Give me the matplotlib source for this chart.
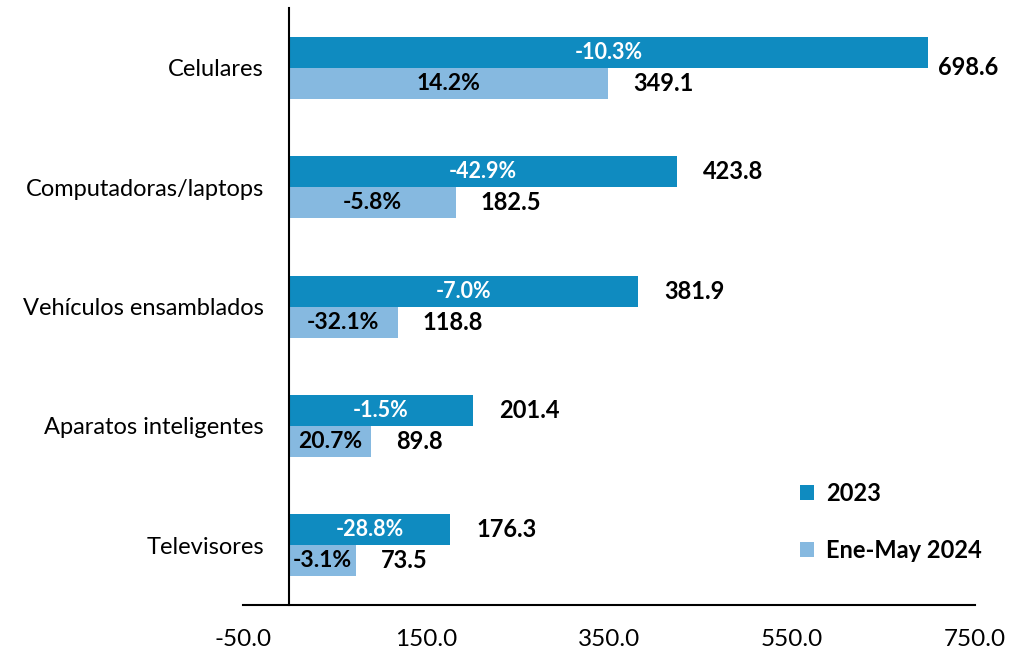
import numpy as np
import matplotlib
matplotlib.use("Agg")
import matplotlib.pyplot as plt

plt.rcParams['font.family'] = ['Lato', 'DejaVu Sans']

categorias = ["Celulares", "Computadoras/laptops", "Vehículos ensamblados",
              "Aparatos inteligentes", "Televisores"]
valores_2023 = [698.6, 423.8, 381.9, 201.4, 176.3]
valores_2024 = [349.1, 182.5, 118.8, 89.8, 73.5]
var_2023 = ["-10.3%", "-42.9%", "-7.0%", "-1.5%", "-28.8%"]
var_2024 = ["14.2%", "-5.8%", "-32.1%", "20.7%", "-3.1%"]
ticks_x = [-50, 150, 350, 550, 750]

c2023 = "#0F8BC0"
c2024 = "#86B9E0"

fig = plt.figure(figsize=(10.13, 6.57), dpi=100)
ax = fig.add_axes([0.240, 0.079, 0.7226, 0.9087])

# eje vertical en x = 0 (antes de fijar las etiquetas)
ax.spines["top"].set_visible(False)
ax.spines["right"].set_visible(False)
ax.spines["left"].set_position(("data", 0))
ax.spines["left"].set_linewidth(1.5)
ax.spines["bottom"].set_linewidth(1.5)

y = np.arange(len(categorias))
h = 0.26
ax.barh(y - h / 2, valores_2023, height=h, color=c2023, label="2023")
ax.barh(y + h / 2, valores_2024, height=h, color=c2024, label="Ene-May 2024")

ax.set_xlim(-50, 750)
ax.set_ylim(4.5, -0.5)
ax.set_xticks(ticks_x)
ax.set_xticklabels([f"{t:.1f}" for t in ticks_x], fontsize=17.5)
ax.set_yticks(y)
ax.set_yticklabels(categorias, fontsize=17)
ax.tick_params(axis="both", length=0)
ax.tick_params(axis="x", pad=17)
ax.tick_params(axis="y", pad=18)

for i in range(len(categorias)):
    # variaciones dentro de las barras
    ax.text(valores_2023[i] / 2, y[i] - h / 2, var_2023[i], ha="center", va="center",
            color="white", fontsize=15.5, fontweight="bold")
    ax.text(valores_2024[i] / 2, y[i] + h / 2, var_2024[i], ha="center", va="center",
            color="black", fontsize=16.5, fontweight="bold")
    # valores al final
    dy = 0.13 if i == 0 else 0
    dx = 10 if i == 0 else 26
    ax.annotate(f"{valores_2023[i]:.1f}", (valores_2023[i], y[i] - h / 2 + dy),
                xytext=(dx, 0), textcoords="offset pixels", ha="left", va="center",
                fontsize=17, fontweight="bold")
    ax.annotate(f"{valores_2024[i]:.1f}", (valores_2024[i], y[i] + h / 2),
                xytext=(25, 0), textcoords="offset pixels", ha="left", va="center",
                fontsize=17, fontweight="bold")

ax.legend(loc="upper left", bbox_to_anchor=(0.732, 0.242), frameon=False,
          prop={"size": 17, "weight": "bold"}, handlelength=0.6, handleheight=0.6,
          labelspacing=1.45, handletextpad=0.5)

fig.savefig("out.png", dpi=100)
